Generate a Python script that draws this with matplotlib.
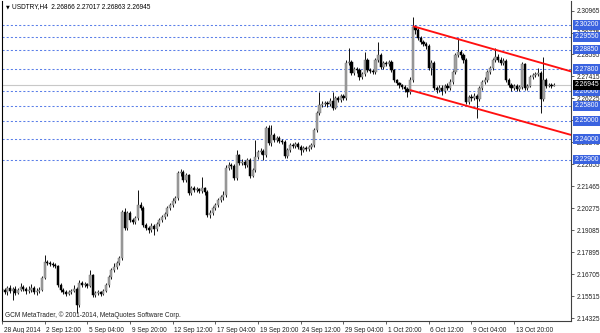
import matplotlib
matplotlib.use("Agg")
import matplotlib.pyplot as plt
import matplotlib.transforms as mtransforms
import numpy as np

# ---------------- data ----------------
first_open = 2.1589
closes = [
 2.1584,2.1573,2.1595,2.1579,2.1589,2.1568,2.1584,2.1600,2.1589,2.1579,
 2.1584,2.1595,2.1573,2.1579,2.1584,2.1649,2.1735,2.1730,2.1724,2.1719,
 2.1714,2.1611,2.1584,2.1573,2.1562,2.1573,2.1579,2.1589,2.1503,2.1622,
 2.1611,2.1617,2.1606,2.1665,2.1557,2.1568,2.1573,2.1562,2.1579,2.1611,
 2.1654,2.1692,2.1708,2.1730,2.1757,2.2006,2.1920,2.2001,2.1963,2.1952,
 2.1974,2.2044,2.2028,2.1936,2.1920,2.1909,2.1931,2.1914,2.1941,2.1963,
 2.1979,2.1995,2.2028,2.2044,2.2066,2.2082,2.2217,2.2222,2.2179,2.2206,
 2.2109,2.2136,2.2125,2.2130,2.2120,2.2136,2.2114,2.1990,2.2001,2.2028,
 2.2044,2.2071,2.2087,2.2098,2.2244,2.2260,2.2255,2.2190,2.2314,2.2271,
 2.2277,2.2260,2.2287,2.2201,2.2233,2.2304,2.2331,2.2336,2.2314,2.2461,
 2.2379,2.2423,2.2396,2.2407,2.2390,2.2385,2.2309,2.2342,2.2369,2.2363,
 2.2374,2.2358,2.2342,2.2353,2.2347,2.2358,2.2369,2.2450,2.2542,2.2585,
 2.2590,2.2596,2.2590,2.2607,2.2569,2.2623,2.2612,2.2634,2.2623,2.2812,
 2.2818,2.2758,2.2780,2.2774,2.2736,2.2753,2.2828,2.2774,2.2769,2.2763,
 2.2828,2.2855,2.2790,2.2812,2.2807,2.2818,2.2774,2.2720,2.2704,2.2693,
 2.2682,2.2672,2.2655,2.2720,2.3007,2.2991,2.2947,2.2926,2.2915,2.2904,
 2.2785,2.2812,2.2677,2.2666,2.2677,2.2661,2.2688,2.2677,2.2709,2.2763,
 2.2855,2.2872,2.2855,2.2828,2.2601,2.2628,2.2623,2.2634,2.2617,2.2677,
 2.2709,2.2720,2.2763,2.2785,2.2828,2.2845,2.2828,2.2812,2.2823,2.2720,
 2.2693,2.2677,2.2688,2.2672,2.2682,2.2807,2.2677,2.2688,2.2736,2.2747,
 2.2753,2.2758,2.2617,2.2720,2.2688,2.2693,2.26866,2.26945,
]
highs = [
 2.1600,2.1595,2.1606,2.1611,2.1600,2.1606,2.1595,2.1622,2.1611,2.1600,
 2.1606,2.1617,2.1606,2.1595,2.1600,2.1660,2.1774,2.1746,2.1741,2.1735,
 2.1730,2.1719,2.1622,2.1595,2.1584,2.1584,2.1589,2.1611,2.1600,2.1638,
 2.1633,2.1627,2.1622,2.1692,2.1670,2.1579,2.1584,2.1579,2.1589,2.1622,
 2.1665,2.1703,2.1730,2.1741,2.1768,2.2017,2.2028,2.2012,2.2012,2.1974,
 2.1985,2.2125,2.2060,2.2039,2.1947,2.1931,2.1947,2.1941,2.1952,2.1974,
 2.1990,2.2006,2.2039,2.2055,2.2082,2.2093,2.2228,2.2239,2.2233,2.2217,
 2.2212,2.2147,2.2147,2.2141,2.2136,2.2195,2.2141,2.2125,2.2017,2.2039,
 2.2055,2.2082,2.2098,2.2120,2.2260,2.2277,2.2271,2.2266,2.2342,2.2320,
 2.2293,2.2287,2.2298,2.2298,2.2244,2.2396,2.2342,2.2353,2.2347,2.2472,
 2.2477,2.2477,2.2434,2.2418,2.2418,2.2401,2.2396,2.2353,2.2379,2.2379,
 2.2385,2.2385,2.2369,2.2363,2.2363,2.2369,2.2379,2.2461,2.2553,2.2655,
 2.2607,2.2607,2.2607,2.2623,2.2655,2.2634,2.2634,2.2645,2.2645,2.2828,
 2.2893,2.2828,2.2790,2.2790,2.2785,2.2763,2.2872,2.2839,2.2785,2.2780,
 2.2839,2.2926,2.2866,2.2823,2.2823,2.2828,2.2828,2.2780,2.2725,2.2709,
 2.2698,2.2693,2.2682,2.2736,2.3061,2.3018,2.3001,2.2958,2.2937,2.2926,
 2.2915,2.2828,2.2823,2.2688,2.2693,2.2693,2.2698,2.2704,2.2725,2.2774,
 2.2866,2.2948,2.2882,2.2866,2.2839,2.2639,2.2645,2.2650,2.2645,2.2688,
 2.2720,2.2736,2.2774,2.2796,2.2839,2.2893,2.2861,2.2845,2.2839,2.2834,
 2.2731,2.2704,2.2698,2.2698,2.2693,2.2818,2.2812,2.2698,2.2747,2.2758,
 2.2763,2.2785,2.2769,2.2845,2.2731,2.2704,2.2704,2.27017,
]
lows = [
 2.1573,2.1562,2.1557,2.1568,2.1530,2.1557,2.1562,2.1579,2.1579,2.1562,
 2.1568,2.1573,2.1562,2.1557,2.1568,2.1579,2.1644,2.1719,2.1714,2.1708,
 2.1703,2.1600,2.1573,2.1562,2.1551,2.1557,2.1562,2.1573,2.1460,2.1492,
 2.1600,2.1600,2.1595,2.1600,2.1546,2.1546,2.1557,2.1551,2.1557,2.1573,
 2.1600,2.1644,2.1681,2.1697,2.1719,2.1746,2.1909,2.1909,2.1952,2.1941,
 2.1941,2.1963,2.2017,2.1925,2.1909,2.1893,2.1898,2.1882,2.1904,2.1931,
 2.1952,2.1968,2.1985,2.2017,2.2033,2.2055,2.2071,2.2201,2.2168,2.2168,
 2.2098,2.2098,2.2114,2.2114,2.2109,2.2109,2.2098,2.1979,2.1974,2.1990,
 2.2017,2.2033,2.2060,2.2071,2.2087,2.2233,2.2239,2.2179,2.2179,2.2260,
 2.2260,2.2244,2.2250,2.2190,2.2195,2.2222,2.2293,2.2320,2.2287,2.2304,
 2.2369,2.2363,2.2385,2.2385,2.2379,2.2374,2.2298,2.2298,2.2331,2.2353,
 2.2353,2.2347,2.2314,2.2331,2.2336,2.2336,2.2347,2.2358,2.2439,2.2531,
 2.2574,2.2580,2.2574,2.2580,2.2558,2.2563,2.2601,2.2601,2.2612,2.2612,
 2.2801,2.2747,2.2747,2.2758,2.2720,2.2725,2.2742,2.2763,2.2758,2.2753,
 2.2753,2.2818,2.2780,2.2780,2.2796,2.2796,2.2763,2.2709,2.2693,2.2677,
 2.2672,2.2655,2.2628,2.2645,2.2709,2.2969,2.2937,2.2915,2.2904,2.2888,
 2.2774,2.2747,2.2666,2.2650,2.2655,2.2639,2.2650,2.2666,2.2666,2.2698,
 2.2753,2.2845,2.2839,2.2812,2.2590,2.2590,2.2607,2.2612,2.2515,2.2607,
 2.2666,2.2698,2.2709,2.2753,2.2774,2.2818,2.2818,2.2801,2.2801,2.2709,
 2.2682,2.2661,2.2666,2.2661,2.2661,2.2672,2.2666,2.2666,2.2682,2.2725,
 2.2736,2.2742,2.2542,2.2607,2.2677,2.2682,2.2677,2.26863,
]
date_labels = ["28 Aug 2014", "2 Sep 12:00", "5 Sep 04:00", "9 Sep 20:00",
               "12 Sep 12:00", "17 Sep 04:00", "19 Sep 20:00", "24 Sep 12:00",
               "29 Sep 04:00", "1 Oct 20:00", "6 Oct 12:00", "9 Oct 04:00",
               "13 Oct 20:00"]
bars_per_label = 16
level_prices = [2.30200, 2.29550, 2.28850, 2.27800, 2.26600, 2.25800,
                2.25000, 2.24000, 2.22900]
axis_ticks = [2.14325, 2.15515, 2.16705, 2.17895, 2.19085, 2.20275, 2.21465,
              2.22655, 2.23845, 2.25035, 2.26225, 2.27415, 2.28595, 2.29775,
              2.30965]
hidden_ticks = [2.25035]   # fully covered by a level box in the reference
channel_upper = ([154, 200], [2.3012, 2.2822])
channel_lower = ([153, 200], [2.2666, 2.2477])
symbol = "USDTRY,H4"
copyright_text = "GCM MetaTrader, \u00a9 2001-2014, MetaQuotes Software Corp."

# ---------------- plotting ----------------
n = len(closes)
opens = [first_open] + closes[:-1]
opens[-1] = 2.26866
x = np.arange(n)
o = np.array(opens); c = np.array(closes)
h = np.array(highs); l = np.array(lows)

W, H = 600, 333
fig = plt.figure(figsize=(W / 100, H / 100), dpi=100)
ax = fig.add_axes([1.5 / W, 12 / H, 570 / W, 320 / H])
ymin, ymax = 2.14164, 2.3148
ax.set_ylim(ymin, ymax)
ax.set_xlim(-0.2, 213.5)

FONT = "Liberation Sans"
fs = 4.7

# price levels
for p in level_prices:
    ax.axhline(p, color="#5b7fe8", lw=0.75, ls=(0, (2.0, 2.0)), zorder=1)
last = closes[-1]
ax.axhline(last, color="#c8c8c8", lw=0.8, zorder=1)

# candles
up = c >= o
ax.vlines(x, l, h, color="black", lw=0.65, zorder=2)
bottoms = np.minimum(o, c)
heights = np.maximum(np.abs(c - o), 0.00012)
ax.bar(x[up], heights[up], bottom=bottoms[up], width=0.8,
       color="#a0a0a0", edgecolor="#7a7a7a", linewidth=0.35, zorder=3)
ax.bar(x[~up], heights[~up], bottom=bottoms[~up], width=0.8,
       color="black", edgecolor="black", linewidth=0.35, zorder=3)

# channel lines
def draw_channel(pts):
    xs, ys = pts
    slope = (ys[1] - ys[0]) / (xs[1] - xs[0])
    x_end = 213.5
    ax.plot([xs[0], x_end], [ys[0], ys[0] + slope * (x_end - xs[0])],
            color="#ff1010", lw=1.35, zorder=4, solid_capstyle="butt")
draw_channel(channel_upper)
draw_channel(channel_lower)

# axes styling
ax.spines["top"].set_visible(False)
for s in ["left", "right", "bottom"]:
    ax.spines[s].set_linewidth(0.8)
ax.spines["left"].set_color("black")
ax.spines["right"].set_color("#404040")
ax.spines["bottom"].set_color("#404040")

ax.yaxis.tick_right()
ax.set_yticks(axis_ticks)
ax.set_yticklabels(["" if t in hidden_ticks else f"{t:.5f}" for t in axis_ticks],
                   fontsize=fs, family=FONT, color="#202020")
ax.tick_params(axis="y", length=2, width=0.5, pad=1.5, colors="#202020")

tick_pos = np.arange(len(date_labels)) * bars_per_label
ax.set_xticks(tick_pos)
ax.set_xticklabels(date_labels, fontsize=fs, family=FONT, color="#202020",
                   ha="left")
ax.tick_params(axis="x", length=2.5, width=0.5, pad=1.5, colors="#202020")
offset = mtransforms.ScaledTranslation(1.5 / 100, 0, fig.dpi_scale_trans)
for lbl in ax.get_xticklabels():
    lbl.set_transform(lbl.get_transform() + offset)

# right-side price boxes
def price_box(p, fc):
    ax.annotate(f"{p:.5f}", xy=(1, p), xycoords=("axes fraction", "data"),
                xytext=(2.4, 0), textcoords="offset points", va="center",
                ha="left", fontsize=fs + 0.2, family=FONT, color="white",
                bbox=dict(boxstyle="square,pad=0.2", fc=fc, ec=fc, lw=0),
                zorder=10, annotation_clip=False)
for p in level_prices:
    price_box(p, "#3a63e0")
price_box(last, "black")

# header
fig.text(5.5 / W, 1 - 7 / H, "\u25bc", fontsize=3.5, family="DejaVu Sans",
         va="center", ha="left", color="black")
fig.text(12 / W, 1 - 7 / H,
         f"{symbol}  {opens[-1]:.5f} {highs[-1]:.5f} {lows[-1]:.5f} {closes[-1]:.5f}",
         fontsize=fs, family=FONT, va="center", ha="left", color="black")
fig.text(5 / W, 1 - 315 / H, copyright_text, fontsize=fs, family=FONT,
         va="center", ha="left", color="#202020")

fig.savefig("out.png", dpi=100, facecolor="white")
